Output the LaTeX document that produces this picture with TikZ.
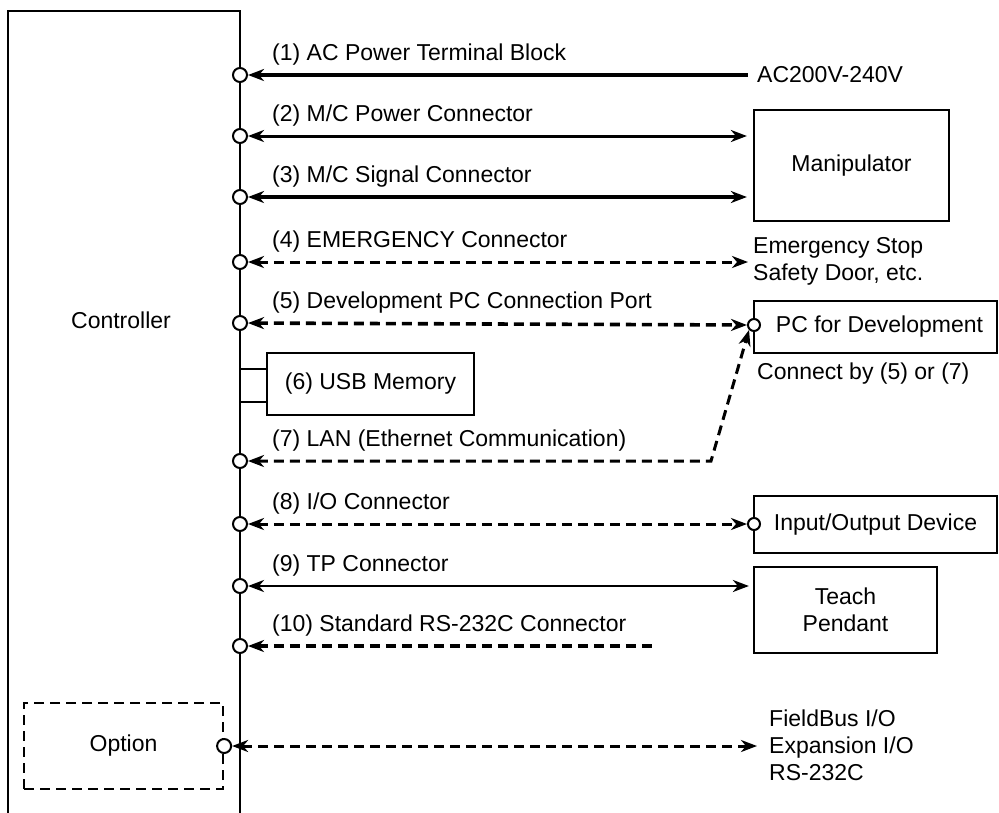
\documentclass[tikz,border=0pt]{standalone}
\usepackage{fontspec}
\setmainfont{Liberation Sans}
\usetikzlibrary{arrows.meta}
\begin{document}
\begin{tikzpicture}[x=1pt,y=-1pt,
  every node/.style={font=\fontsize{23}{27}\selectfont},
  >={Stealth[length=16pt,width=12pt,inset=5pt]},
  port/.style={circle,draw,fill=white,minimum size=14pt,inner sep=0pt,line width=2pt},
  sport/.style={circle,draw,fill=white,minimum size=12pt,inner sep=0pt,line width=2pt},
  box/.style={draw,line width=2.2pt,inner sep=0pt},
  lbl/.style={anchor=west,inner sep=0pt},
  dsh/.style={dash pattern=on 10pt off 6pt},
  wire/.style={line width=3pt}
]
\useasboundingbox (0,0) rectangle (999,812);
% controller outline
\draw[line width=2.5pt] (8,815) -- (8,11) -- (240,11) -- (240,815);
\node at (121,320) (ctrl) {Controller};

% boxes
\node[box,minimum width=195pt,minimum height=111pt] (manip) at (851.5,165.5) {Manipulator};
\node[box,minimum width=243pt,minimum height=52pt] (pc) at (875.5,327) {\hspace*{8pt}PC for Development};
\node[box,minimum width=243pt,minimum height=57pt] (io) at (875.5,524.5) {Input/Output Device};
\node[box,minimum width=183pt,minimum height=86pt,align=center] (tp) at (845.5,610) {Teach\\Pendant};
\node[box,minimum width=207pt,minimum height=62pt] (usb) at (370.5,384) {(6) USB Memory};
\node[box,dsh,minimum width=199pt,minimum height=86pt] (opt) at (123.5,746) {Option};

% right-side texts
\node[lbl] (ac) at (757,75) {AC200V-240V};
\node[lbl,align=left] (em) at (753,261.5) {Emergency Stop\\Safety Door, etc.};
\node[lbl] (cb) at (757,374) {Connect by (5) or (7)};
\node[lbl,align=left] (fb) at (769,745.5) {FieldBus I/O\\Expansion I/O\\RS-232C};

% ports on controller
\node[port] (c1) at (240,75) {};
\node[port] (c2) at (240,136) {};
\node[port] (c3) at (240,197) {};
\node[port] (c4) at (240,262) {};
\node[port] (c5) at (240,323) {};
\node[port] (c7) at (240,461) {};
\node[port] (c8) at (240,524) {};
\node[port] (c9) at (240,586) {};
\node[port] (c10) at (240,646) {};
\node[port] (co) at (opt.east) {};
\node[sport] (cpc) at (754,325) {};
\node[sport] (cio) at (754,524) {};

% labels
\node[lbl] (l1) at (272,55) {(1) AC Power Terminal Block};
\node[lbl] (l2) at (272,116) {(2) M/C Power Connector};
\node[lbl] (l3) at (272,177) {(3) M/C Signal Connector};
\node[lbl] (l4) at (272,242) {(4) EMERGENCY Connector};
\node[lbl] (l5) at (272,303) {(5) Development PC Connection Port};
\node[lbl] (l7) at (272,441) {(7) LAN (Ethernet Communication)};
\node[lbl] (l8) at (272,504) {(8) I/O Connector};
\node[lbl] (l9) at (272,566) {(9) TP Connector};
\node[lbl] (l10) at (272,626) {(10) Standard RS-232C Connector};

% USB connection
\coordinate (u1) at (240,369);
\coordinate (u2) at (240,402);
\draw[line width=2pt] (u1) -- (u1 -| usb.west);
\draw[line width=2pt] (u2) -- (u2 -| usb.west);

% connectors
\coordinate (e10) at (657,646);
\coordinate (bend) at (711,461);
\draw[line width=3.6pt,<-,shorten >=9pt] (c1) -- (c1 -| ac.west);
\draw[line width=3pt,<->,shorten >=6pt] (c2) -- (c2 -| manip.west);
\draw[line width=4.2pt,<->,shorten >=6pt] (c3) -- (c3 -| manip.west);
\draw[wire,dsh,<->] (c4) -- ([xshift=-5pt]c4 -| em.west);
\draw[line width=3.6pt,dsh,<->] (c5) -- (cpc.west);
\draw[wire,dsh,<->] (c7) -- (bend) -- (cpc.south west);
\draw[wire,dsh,<->] (c8) -- (cio.west);
\draw[line width=2.6pt,<->,shorten >=4pt] (c9) -- (c9 -| tp.west);
\draw[line width=4.2pt,dsh,<-] (c10) -- (e10);
\draw[wire,dsh,<->,shorten >=12pt] (co) -- (co -| fb.west);
\end{tikzpicture}
\end{document}
